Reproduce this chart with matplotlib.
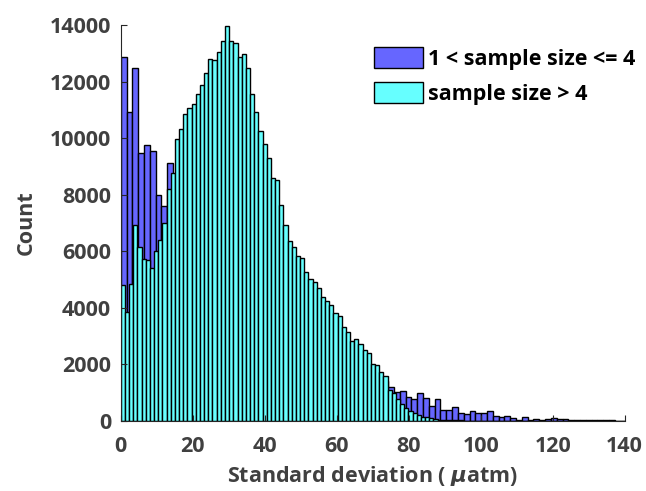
import numpy as np
import matplotlib
matplotlib.use('Agg')
from matplotlib import pyplot as plt
from matplotlib.patches import Patch

# bin widths (std dev units)
cyan_width = 1.158
blue_width = 1.615

# counts, 1 < sample size <= 4
blue_counts = [12876, 10932, 12499, 9495, 9754, 9554, 7987, 7610, 9141, 8200,
               7600, 7000, 6600, 6100, 5700, 5300, 5000, 4700, 4400, 4150,
               3900, 3700, 3500, 3300, 3150, 3000, 2850, 2700, 2600, 2500,
               2400, 2300, 2200, 2100, 2000, 1950, 1900, 1850, 1800, 1750,
               1700, 1650, 1600, 1550, 1450, 1400, 1213, 1037, 1072, 836,
               790, 978, 810, 520, 777, 389, 389, 507, 271, 240,
               370, 271, 295, 360, 188, 125, 185, 94, 50, 130,
               45, 80, 35, 59, 94, 71, 59, 47, 30, 35,
               25, 30, 20, 25, 20, 15, 10]

# counts, sample size > 4
cyan_counts = [4806, 3840, 4830, 6950, 6161, 5725, 5690, 5395, 6020, 6420,
               7021, 8222, 8788, 9966, 10319, 10873, 11085, 11203, 11580, 11874,
               12322, 12817, 12781, 13052, 13429, 13959, 13440, 13370, 12876, 12993,
               12487, 11556, 10932, 10249, 9789, 9318, 8611, 8541, 7657, 6927,
               6373, 6161, 5843, 5749, 5277, 5018, 4900, 4712, 4394, 4241,
               4099, 3805, 3700, 3334, 3157, 2839, 2890, 2709, 2500, 2400,
               2003, 1990, 1720, 1602, 1080, 980, 790, 590, 448, 365,
               271, 225, 153, 130, 94, 59, 35, 30, 25, 22,
               20, 18, 15, 14, 12, 10, 9, 8, 7, 6,
               5, 5, 4, 4, 3, 3, 3, 2, 2, 2,
               2, 1, 1, 1, 1, 1, 1, 1, 0, 0,
               0, 0, 0, 0, 0, 0, 0, 0, 0, 0, 0]

labels = ['1 < sample size <= 4', 'sample size > 4']
blue = '#6666ff'
cyan = '#66ffff'
grey = '#404040'

plt.rcParams['font.family'] = ['Open Sans', 'DejaVu Sans']
plt.rcParams['font.weight'] = 'bold'
plt.rcParams['mathtext.fontset'] = 'dejavusans'

fig = plt.figure(figsize=(6.46, 4.91), dpi=100)
ax = fig.add_axes([0.187, 0.1426, 0.780, 0.806])

blue_left = np.arange(len(blue_counts)) * blue_width
cyan_left = np.arange(len(cyan_counts)) * cyan_width
ax.bar(blue_left, blue_counts, width=blue_width, align='edge',
       color=blue, edgecolor='black', linewidth=1.0)
ax.bar(cyan_left, cyan_counts, width=cyan_width, align='edge',
       color=cyan, edgecolor='black', linewidth=1.0)

ax.set_xlim(0, 140)
ax.set_ylim(0, 14000)
ax.set_xticks(np.arange(0, 141, 20))
ax.set_yticks(np.arange(0, 14001, 2000))
ax.spines['top'].set_visible(False)
ax.spines['right'].set_visible(False)
for s in ['left', 'bottom']:
    ax.spines[s].set_color('#262626')
ax.tick_params(direction='in', length=4, width=0.8, colors='#262626',
               labelsize=15.5, labelcolor=grey)
ax.tick_params(axis='x', pad=11)
ax.tick_params(axis='y', pad=7)
for t in ax.get_xticklabels() + ax.get_yticklabels():
    t.set_fontweight('bold')

ax.set_xlabel('Standard deviation ( $\\mu$atm)', fontsize=15.5,
              fontweight='bold', color=grey, labelpad=5)
ax.set_ylabel('Count', fontsize=15.5, fontweight='bold', color=grey, labelpad=9)

handles = [Patch(facecolor=blue, edgecolor='black'),
           Patch(facecolor=cyan, edgecolor='black')]
leg = fig.legend(handles, labels, loc='upper right', bbox_to_anchor=(0.997, 0.922),
                 frameon=False, fontsize=15.5, handlelength=2.3, handleheight=1.15,
                 handletextpad=0.22, labelspacing=0.55, borderaxespad=0)
for t in leg.get_texts():
    t.set_fontweight('bold')

fig.savefig('out.png', dpi=100)
